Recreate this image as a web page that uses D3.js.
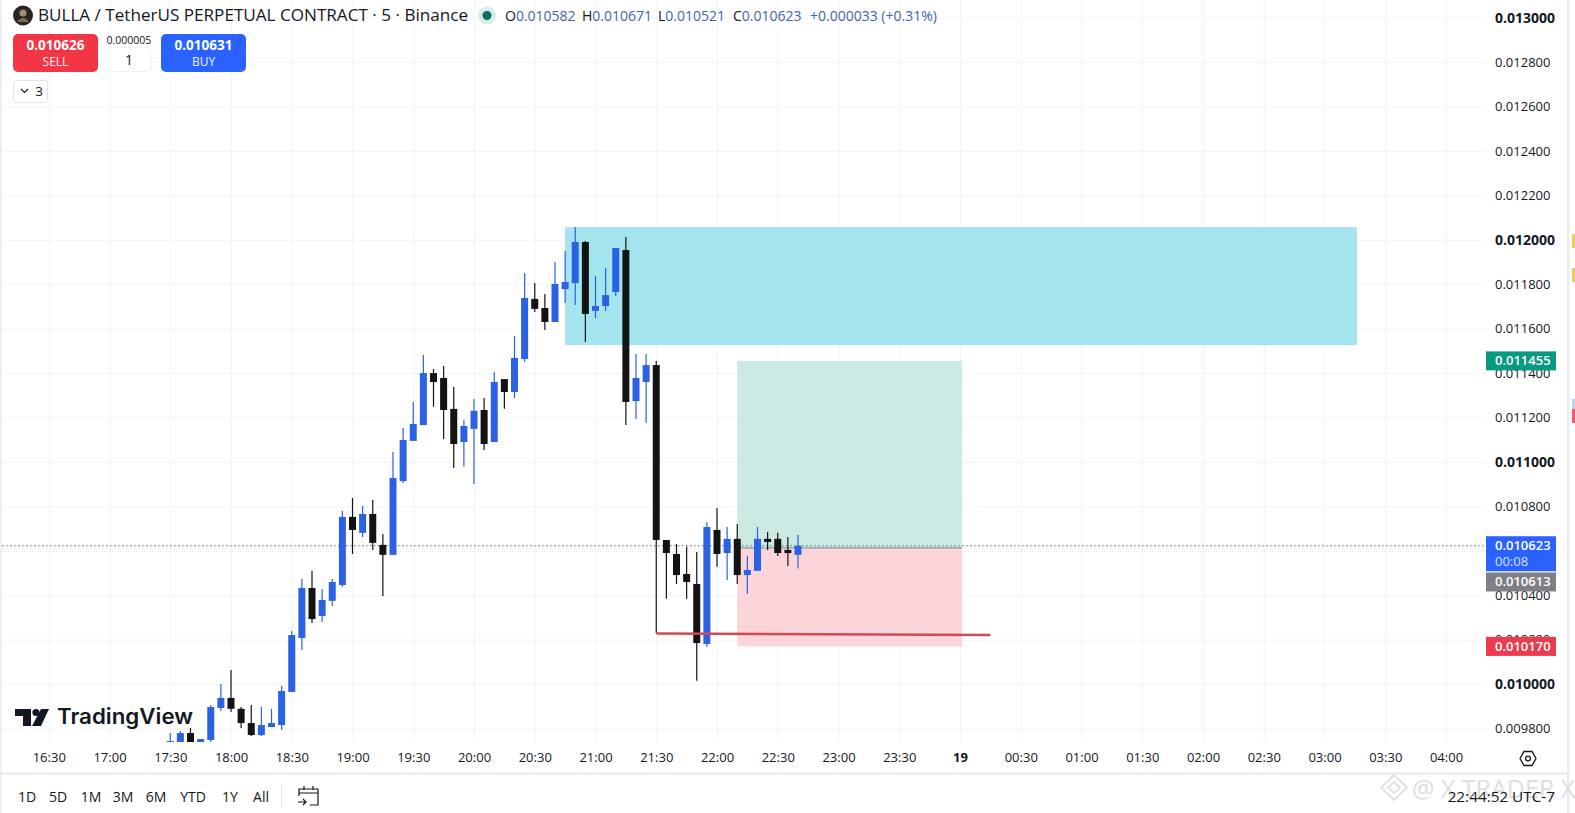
<!DOCTYPE html>
<html>
<head>
<meta charset="utf-8">
<script src="https://cdn.jsdelivr.net/npm/d3@7"></script>
<style>
  html, body { margin: 0; padding: 0; background: #fff; overflow: hidden; }
  svg { display: block; font-family: "Open Sans", "Noto Sans", sans-serif; }
  .grid line { stroke: #f1f3f7; }
  .grid .domain { display: none; }
</style>
</head>
<body>
<svg id="chart"></svg>
<script>
// prices are in millionths, same digits as the price axis
var times = ["17:30","17:35","17:40","17:45","17:50","17:55","18:00","18:05","18:10","18:15","18:20","18:25",
  "18:30","18:35","18:40","18:45","18:50","18:55","19:00","19:05","19:10","19:15","19:20","19:25",
  "19:30","19:35","19:40","19:45","19:50","19:55","20:00","20:05","20:10","20:15","20:20","20:25",
  "20:30","20:35","20:40","20:45","20:50","20:55","21:00","21:05","21:10","21:15","21:20","21:25",
  "21:30","21:35","21:40","21:45","21:50","21:55","22:00","22:05","22:10","22:15","22:20","22:25",
  "22:30","22:35","22:40"];
var opens = [9726,9726,9780,9726,9749,9893,9938,9889,9825,9771,9807,9816,
  9965,10208,10433,10307,10375,10446,10753,10681,10766,10627,10582,10914,
  11095,11166,11400,11378,11239,11090,11149,11234,11090,11373,11315,11463,
  11734,11693,11630,11778,11805,11990,11680,11702,11765,11954,11274,11360,
  11436,10649,10586,10496,10451,10181,10694,10590,10654,10491,10510,10654,
  10654,10604,10582];
var highs = [9780,9789,9803,9753,9906,10001,10064,9897,9906,9897,9889,9992,
  10239,10473,10510,10428,10473,10780,10838,10802,10829,10676,11045,11153,
  11270,11481,11419,11432,11337,11189,11283,11288,11405,11373,11567,11851,
  11805,11756,11900,11949,12057,11994,11837,11873,11963,12013,11486,11486,
  11454,10649,10631,10618,10595,10730,10793,10707,10721,10577,10707,10685,
  10681,10662,10671];
var lows = [9700,9717,9713,9720,9740,9879,9875,9803,9767,9767,9807,9794,
  9965,10154,10275,10280,10352,10438,10586,10662,10604,10397,10582,10905,
  11095,11166,11248,11103,10973,10978,10901,11054,11090,11239,11288,11450,
  11675,11594,11630,11715,11706,11540,11648,11680,11747,11166,11193,11175,
  10230,10384,10451,10384,10015,10168,10528,10469,10451,10406,10510,10604,
  10577,10532,10521];
var closes = [9744,9780,9726,9753,9897,9938,9889,9825,9771,9816,9825,9969,
  10221,10433,10293,10379,10460,10753,10694,10766,10636,10582,10928,11099,
  11171,11400,11360,11234,11081,11162,11230,11081,11360,11315,11468,11738,
  11689,11630,11801,11810,11990,11666,11702,11751,11963,11270,11378,11436,
  10649,10590,10491,10460,10185,10707,10586,10654,10491,10514,10654,10640,
  10590,10590,10623];

var priceTicks = [13000,12800,12600,12400,12200,12000,11800,11600,11400,11200,11000,10800,10600,10400,10200,10000,9800];
var boldPrices = [13000,12000,11000,10000];
var timeTicks = ["16:30","17:00","17:30","18:00","18:30","19:00","19:30","20:00","20:30","21:00","21:30","22:00",
  "22:30","23:00","23:30","00:00","00:30","01:00","01:30","02:00","02:30","03:00","03:30","04:00"];
var ranges = ["1D","5D","1M","3M","6M","YTD","1Y","All"];
var ohlcLabels = ["O","H","L","C"];
var ohlcValues = ["0.010582","0.010671","0.010521","0.010623"];

// drawings on the chart: [start time, end time, price a, price b]
var supplyZone = ["20:45","03:16",12057,11526];
var profitZone = ["22:10","00:01",11455,10613];
var stopZone = ["22:10","00:01",10613,10170];
var levelLine = ["21:30","00:15",10228,10221];
var currentPrice = 10623, entryPrice = 10613, targetPrice = 11455, stopPrice = 10170;

var blue = "#2b62e4", black = "#131313", green = "#089981", red = "#f23645", gray = "#7f7f85";
var w = 1575, h = 813;

var svg = d3.select("#chart").attr("width", w).attr("height", h);

// times after midnight belong to the next day
function minutes(t) {
  var p = t.split(":");
  var m = +p[0] * 60 + +p[1];
  return m < 600 ? m + 1440 : m;
}

var x = d3.scaleLinear().domain([minutes("16:30"), minutes("04:00")]).range([48.75, 1446]);
var y = d3.scaleLinear().domain([9800, 13000]).range([728.6, 17.6]);

var paneRight = 1486, paneBottom = 742;

svg.append("rect").attr("width", w).attr("height", h).attr("fill", "#fff");

svg.append("clipPath").attr("id", "pane").append("rect")
  .attr("x", 2).attr("y", 0).attr("width", paneRight - 2).attr("height", paneBottom);

// grid
svg.append("g").attr("class", "grid")
  .attr("transform", "translate(0," + paneBottom + ")")
  .call(d3.axisBottom(x).tickValues(timeTicks.map(minutes)).tickSize(-paneBottom).tickFormat(""));
svg.append("g").attr("class", "grid")
  .attr("transform", "translate(" + paneRight + ",0)")
  .call(d3.axisLeft(y).tickValues(priceTicks).tickSize(paneRight - 2).tickFormat(""));

var plot = svg.append("g").attr("clip-path", "url(#pane)");

function zone(z, fill) {
  plot.append("rect")
    .attr("x", x(minutes(z[0])))
    .attr("width", x(minutes(z[1])) - x(minutes(z[0])))
    .attr("y", y(z[2]))
    .attr("height", y(z[3]) - y(z[2]))
    .attr("fill", fill);
}
zone(supplyZone, "#a3e4ee");
zone(profitZone, "#cde9e4");
zone(stopZone, "#fbd5d9");

// entry line of the position
plot.append("line")
  .attr("x1", x(minutes(profitZone[0]))).attr("x2", x(minutes(profitZone[1])))
  .attr("y1", y(entryPrice)).attr("y2", y(entryPrice))
  .attr("stroke", "#8d9a9c").attr("stroke-width", 1.2);

// last price line
plot.append("line")
  .attr("x1", 2).attr("x2", paneRight)
  .attr("y1", y(currentPrice)).attr("y2", y(currentPrice))
  .attr("stroke", "#56707f").attr("stroke-width", 1).attr("stroke-dasharray", "1.5 2.5");

// candles
var candles = times.map(function(t, i) {
  return { t: minutes(t), o: opens[i], h: highs[i], l: lows[i], c: closes[i] };
});
var bars = plot.selectAll(".bar").data(candles).enter().append("g").attr("class", "bar")
  .attr("fill", function(d) { return d.c >= d.o ? blue : black; })
  .attr("stroke", function(d) { return d.c >= d.o ? blue : black; });
bars.append("line")
  .attr("x1", function(d) { return x(d.t); })
  .attr("x2", function(d) { return x(d.t); })
  .attr("y1", function(d) { return y(d.h); })
  .attr("y2", function(d) { return y(d.l); })
  .attr("stroke-width", 1.2);
bars.append("rect")
  .attr("x", function(d) { return x(d.t) - 3.5; })
  .attr("width", 7)
  .attr("y", function(d) { return y(Math.max(d.o, d.c)); })
  .attr("height", function(d) { return Math.max(1.5, Math.abs(y(d.o) - y(d.c))); })
  .attr("stroke", "none");

// red level line
plot.append("line")
  .attr("x1", x(minutes(levelLine[0]))).attr("x2", x(minutes(levelLine[1])))
  .attr("y1", y(levelLine[2])).attr("y2", y(levelLine[3]))
  .attr("stroke", "#cf4a56").attr("stroke-width", 2.4);

// price axis
var priceAxis = svg.append("g")
  .attr("transform", "translate(1495,0)")
  .call(d3.axisRight(y).tickValues(priceTicks).tickSize(0).tickPadding(0)
    .tickFormat(function(d) { return (d / 1e6).toFixed(6); }));
priceAxis.select(".domain").remove();
priceAxis.selectAll("text")
  .attr("fill", "#131722")
  .style("font-family", "'Open Sans', sans-serif")
  .style("font-size", function(d) { return boldPrices.indexOf(d) >= 0 ? "14px" : "13px"; })
  .style("font-weight", function(d) { return boldPrices.indexOf(d) >= 0 ? 700 : 400; });

// time axis
var timeAxis = svg.append("g")
  .attr("transform", "translate(0,753)")
  .call(d3.axisBottom(x).tickValues(timeTicks.map(minutes)).tickSize(0).tickPadding(0)
    .tickFormat(function(d) { return d === 1440 ? "19" : timeTicks.filter(function(t) { return minutes(t) === d; })[0]; }));
timeAxis.select(".domain").remove();
timeAxis.selectAll("text")
  .attr("fill", "#131722")
  .style("font-family", "'Open Sans', sans-serif")
  .style("font-size", "13px")
  .style("font-weight", function(d) { return d === 1440 ? 700 : 400; });

// price tags
function tag(price, color, labelColor, height, dy) {
  var cy = y(price) + (dy || 0);
  svg.append("rect").attr("x", 1486).attr("y", cy - 9.5).attr("width", 70).attr("height", height)
    .attr("fill", color);
  svg.append("text").attr("x", 1495).attr("y", cy + 4.5)
    .attr("fill", labelColor).style("font-size", "13px").style("font-weight", 600)
    .text((price / 1e6).toFixed(6));
}
tag(stopPrice, "#ec3b4c", "#fff", 19);
tag(targetPrice, green, "#fff", 19);
tag(currentPrice, "#2962ff", "#fff", 35);
svg.append("text").attr("x", 1495).attr("y", y(currentPrice) + 20)
  .attr("fill", "#d7e2ff").style("font-size", "13px").text("00:08");
tag(entryPrice, gray, "#fff", 19, 34);

// header
svg.append("circle").attr("cx", 23).attr("cy", 15.5).attr("r", 10).attr("fill", "#2b2522");
svg.append("circle").attr("cx", 23).attr("cy", 13).attr("r", 3.5).attr("fill", "#a08a70");
svg.append("path").attr("d", "M17 22 Q23 14 29 22 Z").attr("fill", "#7e6a55");
svg.append("text").attr("x", 38).attr("y", 21).attr("fill", "#131722")
  .attr("textLength", 430).attr("lengthAdjust", "spacingAndGlyphs")
  .style("font-size", "16px")
  .text("BULLA / TetherUS PERPETUAL CONTRACT · 5 · Binance");
svg.append("circle").attr("cx", 487).attr("cy", 15.5).attr("r", 9).attr("fill", "#d4eee9");
svg.append("circle").attr("cx", 487).attr("cy", 15.5).attr("r", 4.5).attr("fill", "#0b6f60");

var ohlcX = [505, 582, 658, 733];
var ohlc = svg.append("g").style("font-size", "14px");
ohlcLabels.forEach(function(l, i) {
  var t = ohlc.append("text").attr("x", ohlcX[i]).attr("y", 20.5).attr("fill", "#131722").text(l);
  t.append("tspan").attr("fill", "#3f64ad").text(ohlcValues[i]);
});
ohlc.append("text").attr("x", 810).attr("y", 20.5).attr("fill", "#3f64ad").text("+0.000033 (+0.31%)");

// trade buttons
function button(bx, fill, price, label) {
  svg.append("rect").attr("x", bx).attr("y", 34).attr("width", 85).attr("height", 38).attr("rx", 5).attr("fill", fill);
  svg.append("text").attr("x", bx + 42.5).attr("y", 50).attr("text-anchor", "middle").attr("fill", "#fff")
    .style("font-size", "13.5px").style("font-weight", 700).text(price);
  svg.append("text").attr("x", bx + 42.5).attr("y", 65.5).attr("text-anchor", "middle").attr("fill", "#f2f4ff")
    .style("font-size", "12px").text(label);
}
button(13, "#f23645", "0.010626", "SELL");
button(161, "#2962ff", "0.010631", "BUY");
svg.append("text").attr("x", 129).attr("y", 44).attr("text-anchor", "middle").attr("fill", "#131722")
  .style("font-size", "10.5px").text("0.000005");
svg.append("rect").attr("x", 107).attr("y", 47.5).attr("width", 44).attr("height", 24).attr("rx", 4)
  .attr("fill", "#fff").attr("stroke", "#eef0f3");
svg.append("text").attr("x", 129).attr("y", 65).attr("text-anchor", "middle").attr("fill", "#131722")
  .style("font-size", "14px").text("1");
svg.append("rect").attr("x", 13.5).attr("y", 80.5).attr("width", 34).attr("height", 22).attr("rx", 3)
  .attr("fill", "#fff").attr("stroke", "#e0e3eb");
svg.append("path").attr("d", "M21 89 L24.5 92.5 L28 89").attr("fill", "none").attr("stroke", "#131722").attr("stroke-width", 1.2);
svg.append("text").attr("x", 39).attr("y", 96).attr("text-anchor", "middle").attr("fill", "#131722")
  .style("font-size", "13.5px").text("3");

// TradingView logo
svg.append("path").attr("fill", "#131722")
  .attr("d", "M15 709H31V726H23V716H15Z M41 709H49L41 726H32Z");
svg.append("circle").attr("cx", 36).attr("cy", 712.5).attr("r", 3.6).attr("fill", "#131722");
svg.append("text").attr("x", 57).attr("y", 724).attr("fill", "#131722")
  .attr("textLength", 136).attr("lengthAdjust", "spacingAndGlyphs")
  .style("font-family", "Inter, Roboto, sans-serif").style("font-size", "21px").style("font-weight", 600)
  .text("TradingView");

// borders
svg.append("rect").attr("x", 0).attr("y", 0).attr("width", 2).attr("height", h).attr("fill", "#eceef1");
svg.append("rect").attr("x", 0).attr("y", 772.5).attr("width", 1568).attr("height", 2).attr("fill", "#e6e8ec");
svg.append("rect").attr("x", 1568).attr("y", 0).attr("width", 7).attr("height", h).attr("fill", "#fff");
svg.append("rect").attr("x", 1567).attr("y", 0).attr("width", 2.5).attr("height", h).attr("fill", "#e9ebee");
svg.append("rect").attr("x", 1572).attr("y", 234).attr("width", 3).attr("height", 14).attr("fill", "#f3c95f");
svg.append("rect").attr("x", 1572).attr("y", 268).attr("width", 3).attr("height", 14).attr("fill", "#f3c95f");
svg.append("rect").attr("x", 1572).attr("y", 399).attr("width", 3).attr("height", 10).attr("fill", "#bcd0f0");
svg.append("rect").attr("x", 1572).attr("y", 409).attr("width", 3).attr("height", 14).attr("fill", "#e8606c");

// settings icon
svg.append("path").attr("fill", "none").attr("stroke", "#131722").attr("stroke-width", 1.3)
  .attr("d", "M1520 758.5 L1524 751.5 H1532 L1536 758.5 L1532 765.5 H1524 Z");
svg.append("circle").attr("cx", 1528).attr("cy", 758.5).attr("r", 2.4).attr("fill", "none")
  .attr("stroke", "#131722").attr("stroke-width", 1.3);

// bottom toolbar
var rangeX = [27, 58, 91, 123, 156, 193, 230, 261];
ranges.forEach(function(r, i) {
  svg.append("text").attr("x", rangeX[i]).attr("y", 802).attr("text-anchor", "middle")
    .attr("fill", "#131722").style("font-size", "14px").text(r);
});
svg.append("line").attr("x1", 281.5).attr("x2", 281.5).attr("y1", 784).attr("y2", 808).attr("stroke", "#e0e3eb");
svg.append("path").attr("fill", "none").attr("stroke", "#131722").attr("stroke-width", 1.2)
  .attr("d", "M299 796V789H318V805H310 M299 793H318 M304 786V790 M313 786V790 M298 802H306 M303 799L306 802L303 805");

// watermark
var wm = svg.append("g").attr("fill", "none").attr("stroke", "#e2e2e2").attr("stroke-width", 2);
wm.append("path").attr("d", "M1394 775 L1407 787.5 L1394 800 L1381 787.5 Z M1394 782 L1400 787.5 L1394 793 L1388 787.5 Z");
svg.append("text").attr("x", 1412).attr("y", 798).attr("fill", "#dedede")
  .style("font-size", "25px").text("@ X TRADER X");

svg.append("text").attr("x", 1555).attr("y", 802).attr("text-anchor", "end").attr("fill", "#131722")
  .style("font-size", "15.3px").text("22:44:52 UTC-7");
</script>
</body>
</html>
